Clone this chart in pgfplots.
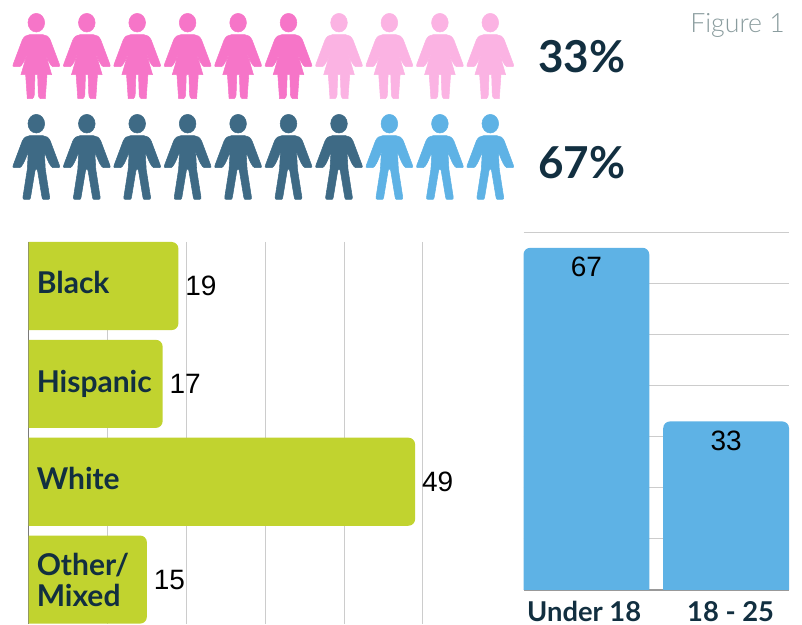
\documentclass[border=0pt]{standalone}
\usepackage{fontspec}
\setmainfont{Liberation Sans}
\newfontfamily\lats{Lato}[UprightFont=* Bold]
\newfontfamily\latol{Lato Light}
\usepackage{pgfplots}
\pgfplotsset{compat=1.18}
\definecolor{pinkD}{HTML}{F675C8}
\definecolor{pinkL}{HTML}{FBB3E3}
\definecolor{blueD}{HTML}{3E6A85}
\definecolor{blueL}{HTML}{5EB2E5}
\definecolor{grn}{HTML}{C1D32F}
\definecolor{ink}{HTML}{122F40}
\definecolor{figgrey}{HTML}{8A9C9E}
\definecolor{gridc}{HTML}{CCCCCC}
\definecolor{axisc}{HTML}{999999}
\pgfdeclareplotmark{woman}{%
  \fill[x=0.25pt,y=-0.25pt] (0,-102) ellipse [x radius=25,y radius=28];
  \fill[x=0.25pt,y=-0.25pt] (-20,-66) -- (20,-66) .. controls (30,-66) and (37,-60) .. (42,-50)
    -- (69,22) .. controls (71,27) and (71,30) .. (66,30) -- (50,30)
    .. controls (43,28) and (36,14) .. (24,-20)
    -- (46,54) -- (32,54) -- (27,126) -- (12,126) .. controls (8,123) and (6,119) .. (6,114) -- (4,54)
    -- (-4,54) -- (-6,114) .. controls (-6,119) and (-8,123) .. (-12,126) -- (-27,126) -- (-32,54)
    -- (-46,54) -- (-24,-20)
    .. controls (-36,14) and (-43,28) .. (-50,30) -- (-66,30) .. controls (-71,30) and (-71,27) .. (-69,22)
    -- (-42,-50) .. controls (-37,-60) and (-30,-66) .. (-20,-66) -- cycle;
}
\pgfdeclareplotmark{man}{%
  \fill[x=0.25pt,y=-0.25pt] (0,-102) ellipse [x radius=25,y radius=28];
  \fill[x=0.25pt,y=-0.25pt] (-20,-66) -- (20,-66) .. controls (30,-66) and (37,-60) .. (42,-50)
    -- (69,22) .. controls (71,27) and (71,30) .. (66,30) -- (50,30)
    .. controls (43,28) and (36,14) .. (24,-18)
    -- (27,35) -- (40,118) .. controls (41,123) and (39,125) .. (36,125) -- (21,125)
    .. controls (19,125) and (18,123) .. (17,118) -- (4,40) .. controls (3,36) and (2,34) .. (0,34)
    .. controls (-2,34) and (-3,36) .. (-4,40) -- (-17,118)
    .. controls (-18,123) and (-19,125) .. (-21,125) -- (-36,125) .. controls (-39,125) and (-41,123) .. (-40,118)
    -- (-27,35) -- (-24,-18)
    .. controls (-36,14) and (-43,28) .. (-50,30) -- (-66,30) .. controls (-71,30) and (-71,27) .. (-69,22)
    -- (-42,-50) .. controls (-37,-60) and (-30,-66) .. (-20,-66) -- cycle;
}
\begin{document}
\begin{tikzpicture}
\path[use as bounding box] (0,0) rectangle (601.5pt,468pt);
% horizontal bars
\begin{axis}[
  at={(21.375pt,286.5pt)},anchor=north west,
  scale only axis,width=295.875pt,height=286.2pt,
  xmin=0,xmax=50,ymin=-0.45,ymax=3.45,y dir=reverse,
  xtick={10,20,30,40,50},ytick=\empty,xticklabels={},
  xmajorgrids,grid style={gridc,line width=0.75pt},
  extra x ticks={0},extra x tick labels={},
  extra x tick style={grid style={axisc!80!black,line width=0.9pt}},
  major tick length=0pt,axis line style={draw=none},
  clip=false]
\addplot[fill=grn,draw=none,rounded corners=5pt] coordinates {(0,-0.45)(19,-0.45)(19,0.45)(0,0.45)};
\addplot[fill=grn,draw=none,rounded corners=5pt] coordinates {(0,0.55)(17,0.55)(17,1.45)(0,1.45)};
\addplot[fill=grn,draw=none,rounded corners=5pt] coordinates {(0,1.55)(49,1.55)(49,2.45)(0,2.45)};
\addplot[fill=grn,draw=none,rounded corners=5pt] coordinates {(0,2.55)(15,2.55)(15,3.45)(0,3.45)};
\addplot[draw=none,point meta=explicit symbolic,nodes near coords,
  nodes near coords style={anchor=west,xshift=5pt,inner sep=0pt,font=\fontsize{21}{25}\selectfont,text=black}]
  coordinates {(19,0)[19] (17,1)[17] (49,2)[49] (15,3)[15]};
\end{axis}
% vertical bars
\begin{axis}[
  at={(392.625pt,293.625pt)},anchor=north west,
  scale only axis,width=199.125pt,height=268.125pt,
  xmin=-0.45,xmax=1.45,ymin=0,ymax=70,
  xtick={0,1},xticklabels={\kern-3.3pt Under 18,\kern6.8pt 18 - 25},
  ytick={10,20,30,40,50,60,70},yticklabels={},
  ymajorgrids,grid style={gridc,line width=0.75pt},
  extra y ticks={0},extra y tick labels={},
  extra y tick style={grid style={axisc,line width=1pt}},
  major tick length=0pt,axis line style={draw=none},
  xticklabel style={font=\lats\fontsize{20.5}{24}\selectfont,text=ink,anchor=base,inner sep=0pt,yshift=-23.4pt},
  clip=false]
\addplot[fill=blueL,draw=none,rounded corners=5pt] coordinates {(-0.45,0)(-0.45,67)(0.45,67)(0.45,0)};
\addplot[fill=blueL,draw=none,rounded corners=5pt] coordinates {(0.55,0)(0.55,33)(1.45,33)(1.45,0)};
\addplot[draw=none,point meta=explicit symbolic,nodes near coords,
  nodes near coords style={anchor=north,yshift=-6.8pt,inner sep=0pt,font=\fontsize{21}{25}\selectfont,text=black}]
  coordinates {(0,67)[67] (1,33)[33]};
\end{axis}
% icons and free text, on a canvas in reference pixels
\begin{axis}[
  at={(0pt,0pt)},anchor=south west,
  scale only axis,width=601.5pt,height=468pt,
  xmin=0,xmax=802,ymin=0,ymax=624,y dir=reverse,hide axis,clip=false]
\addplot[only marks,mark=woman,color=pinkD] coordinates {(36.3,56.7)(86.8,56.7)(137.2,56.7)(187.6,56.7)(238.1,56.7)(288.5,56.7)};
\addplot[only marks,mark=woman,color=pinkL] coordinates {(339,56.7)(389.4,56.7)(439.9,56.7)(490.3,56.7)};
\addplot[only marks,mark=man,color=blueD] coordinates {(36.3,157.7)(86.8,157.7)(137.2,157.7)(187.6,157.7)(238.1,157.7)(288.5,157.7)(339,157.7)};
\addplot[only marks,mark=man,color=blueL] coordinates {(389.4,157.7)(439.9,157.7)(490.3,157.7)};
\node[anchor=base west,inner sep=0pt,text=ink,font=\lats\fontsize{33}{38}\selectfont] at (axis cs:538,72.5) {33\%};
\node[anchor=base west,inner sep=0pt,text=ink,font=\lats\fontsize{33}{38}\selectfont] at (axis cs:538,178.5) {67\%};
\node[anchor=base east,inner sep=0pt,text=figgrey,font=\latol\fontsize{20}{24}\selectfont] at (axis cs:785,32.5) {Figure 1};
\foreach \t/\y in {Black/293.5,Hispanic/392,White/489.5,Other\slash/575,Mixed/606}{
  \edef\temp{\noexpand\node[anchor=base west,inner sep=0pt,text=ink,font=\noexpand\lats\noexpand\fontsize{22.5}{27}\noexpand\selectfont] at (axis cs:36.5,\y) {\t};}
  \temp
}
\end{axis}
\end{tikzpicture}
\end{document}
